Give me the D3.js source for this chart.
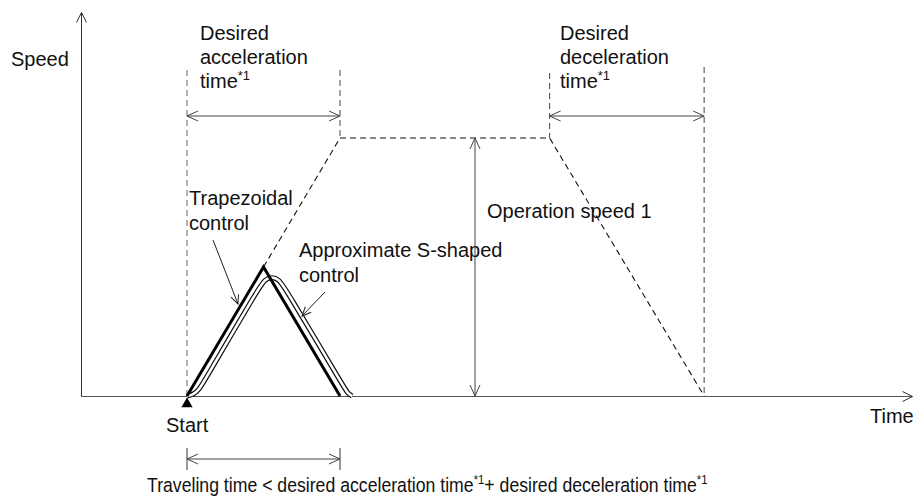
<!DOCTYPE html>
<html>
<head>
<meta charset="utf-8">
<script src="https://cdn.jsdelivr.net/npm/d3@7"></script>
<style>
  body { margin: 0; background: #fff; }
  text { font-family: "Liberation Sans", Arial, sans-serif; fill: #111; }
</style>
</head>
<body>
<script>
// chart values (time in units of the desired acceleration time, speed in units of operation speed 1)
var accelTime = [0, 1];
var decelTime = [2.37, 3.38];
var trapezoid = [[0, 0], [1, 1], [2.37, 1], [3.38, 0]];
var trapezoidalControl = [[0, 0], [0.5, 0.5], [1, 0]];
var sShapedControl = [[0, 0], [0.04, 0.005], [0.08, 0.025], [0.12, 0.065], [0.47, 0.42],
                      [0.51, 0.452], [0.555, 0.462], [0.60, 0.452], [0.64, 0.42],
                      [1.02, 0.04], [1.05, 0.01], [1.08, 0]];
var operationSpeed = 1;
var travelTime = [0, 1];

var width = 914, height = 499;

var x = d3.scaleLinear().domain([0, 1]).range([187, 340]);
var y = d3.scaleLinear().domain([0, 1]).range([396, 138]);

var svg = d3.select("body").append("svg")
    .attr("width", width)
    .attr("height", height);

// arrow heads
var defs = svg.append("defs");
function marker(id, len, half, color) {
  defs.append("marker")
      .attr("id", id)
      .attr("viewBox", (-len - 1) + " " + (-half - 1) + " " + (len + 2) + " " + (2 * half + 2))
      .attr("refX", 0).attr("refY", 0)
      .attr("markerWidth", len + 2).attr("markerHeight", 2 * half + 2)
      .attr("markerUnits", "userSpaceOnUse")
      .attr("orient", "auto-start-reverse")
      .append("path")
      .attr("d", "M" + (-len) + "," + (-half) + "L0,0L" + (-len) + "," + half)
      .attr("fill", "none")
      .attr("stroke", color)
      .attr("stroke-width", 1);
}
marker("axisArrow", 10, 5, "#333");
marker("dimArrow", 11, 5, "#444");
marker("leadArrow", 9, 4, "#222");

// axes (no ticks), extended with arrows
var xAxis = svg.append("g")
    .attr("transform", "translate(0," + y(0) + ")")
    .call(d3.axisBottom(x.copy().domain([x.invert(81), x.invert(912)]).range([81, 912]))
      .tickValues([]).tickSizeOuter(0));
xAxis.select(".domain").attr("stroke", "#555").attr("marker-end", "url(#axisArrow)");

var yAxis = svg.append("g")
    .attr("transform", "translate(81,0)")
    .call(d3.axisLeft(y.copy().domain([0, y.invert(12)]).range([396, 12]))
      .tickValues([]).tickSizeOuter(0));
yAxis.select(".domain").attr("stroke", "#333").attr("marker-end", "url(#axisArrow)");

// dashed guides
svg.append("line")
    .attr("x1", x(accelTime[0])).attr("x2", x(accelTime[0]))
    .attr("y1", 70).attr("y2", y(0))
    .attr("stroke", "#888").attr("stroke-width", 1.3).attr("stroke-dasharray", "6,4");
svg.append("line")
    .attr("x1", x(accelTime[1])).attr("x2", x(accelTime[1]))
    .attr("y1", 70).attr("y2", y(operationSpeed))
    .attr("stroke", "#444").attr("stroke-width", 1).attr("stroke-dasharray", "6,4");
svg.append("line")
    .attr("x1", x(decelTime[0])).attr("x2", x(decelTime[0]))
    .attr("y1", 73).attr("y2", y(operationSpeed))
    .attr("stroke", "#444").attr("stroke-width", 1).attr("stroke-dasharray", "6,4");
svg.append("line")
    .attr("x1", x(decelTime[1])).attr("x2", x(decelTime[1]))
    .attr("y1", 67).attr("y2", y(0))
    .attr("stroke", "#444").attr("stroke-width", 1).attr("stroke-dasharray", "6,4");

var line = d3.line()
    .x(function(d) { return x(d[0]); })
    .y(function(d) { return y(d[1]); });

// desired trapezoid profile
svg.append("path")
    .datum(trapezoid)
    .attr("d", line)
    .attr("fill", "none")
    .attr("stroke", "#111")
    .attr("stroke-width", 1.1)
    .attr("stroke-dasharray", "6,4");

// time spans
svg.append("line")
    .attr("x1", x(accelTime[0])).attr("x2", x(accelTime[1]))
    .attr("y1", 116).attr("y2", 116)
    .attr("stroke", "#444")
    .attr("marker-start", "url(#dimArrow)").attr("marker-end", "url(#dimArrow)");
svg.append("line")
    .attr("x1", x(decelTime[0])).attr("x2", x(decelTime[1]))
    .attr("y1", 116).attr("y2", 116)
    .attr("stroke", "#444")
    .attr("marker-start", "url(#dimArrow)").attr("marker-end", "url(#dimArrow)");

// operation speed
svg.append("line")
    .attr("x1", 475).attr("x2", 475)
    .attr("y1", y(operationSpeed)).attr("y2", y(0))
    .attr("stroke", "#444")
    .attr("marker-start", "url(#dimArrow)").attr("marker-end", "url(#dimArrow)");

// approximate S-shaped control (outlined line)
var sLine = d3.line()
    .x(function(d) { return x(d[0]); })
    .y(function(d) { return y(d[1]); })
    .curve(d3.curveBasis);
svg.append("path")
    .datum(sShapedControl)
    .attr("d", sLine)
    .attr("fill", "none")
    .attr("stroke", "#111")
    .attr("stroke-width", 5);
svg.append("path")
    .datum(sShapedControl)
    .attr("d", sLine)
    .attr("fill", "none")
    .attr("stroke", "#fff")
    .attr("stroke-width", 2.6);

// trapezoidal control
svg.append("path")
    .datum(trapezoidalControl)
    .attr("d", line)
    .attr("fill", "none")
    .attr("stroke", "#000")
    .attr("stroke-width", 3)
    .attr("stroke-linejoin", "miter");

// leader lines
svg.append("line")
    .attr("x1", 213).attr("y1", 240).attr("x2", 238).attr("y2", 304)
    .attr("stroke", "#222").attr("marker-end", "url(#leadArrow)");
svg.append("line")
    .attr("x1", 325).attr("y1", 292).attr("x2", 302).attr("y2", 316)
    .attr("stroke", "#222").attr("marker-end", "url(#leadArrow)");

// start marker
svg.append("path")
    .attr("d", d3.symbol().type(d3.symbolTriangle).size(55))
    .attr("transform", "translate(" + x(0) + ",404)")
    .attr("fill", "#000");

// texts
function label(tx, ty, str, size) {
  return svg.append("text")
      .attr("x", tx).attr("y", ty)
      .style("font-size", (size || 20) + "px")
      .text(str);
}
function labelSup(tx, ty, str) {
  var t = label(tx, ty, str);
  t.append("tspan").attr("dy", -8).style("font-size", "13px").text("*1");
  return t;
}

label(11, 66, "Speed");
label(870, 423, "Time");
label(166, 432, "Start");

label(200, 40, "Desired");
label(200, 64, "acceleration");
labelSup(200, 88, "time");

label(560, 40, "Desired");
label(560, 64, "deceleration");
labelSup(560, 88, "time");

label(189, 205, "Trapezoidal");
label(189, 230, "control");
label(299, 257, "Approximate S-shaped");
label(299, 282, "control");
label(487, 218, "Operation speed 1");

// traveling time span
svg.append("line")
    .attr("x1", x(travelTime[0])).attr("x2", x(travelTime[0]))
    .attr("y1", 448).attr("y2", 470).attr("stroke", "#333");
svg.append("line")
    .attr("x1", x(travelTime[1])).attr("x2", x(travelTime[1]))
    .attr("y1", 448).attr("y2", 470).attr("stroke", "#333");
svg.append("line")
    .attr("x1", x(travelTime[0])).attr("x2", x(travelTime[1]))
    .attr("y1", 459).attr("y2", 459)
    .attr("stroke", "#444")
    .attr("marker-start", "url(#dimArrow)").attr("marker-end", "url(#dimArrow)");

// bottom caption, squeezed horizontally like the original
var bottomG = svg.append("g");
var bottom = bottomG.append("text")
    .attr("x", 0).attr("y", 0)
    .style("font-size", "19.5px");
bottom.append("tspan").text("Traveling time < desired acceleration time");
bottom.append("tspan").attr("dy", -8).style("font-size", "12.5px").text("*1");
bottom.append("tspan").attr("dy", 8).text("+ desired deceleration time");
bottom.append("tspan").attr("dy", -8).style("font-size", "12.5px").text("*1");
var natural = bottom.node().getComputedTextLength();
bottomG.attr("transform", "translate(147,492) scale(" + (561 / natural) + ",1)");
</script>
</body>
</html>
